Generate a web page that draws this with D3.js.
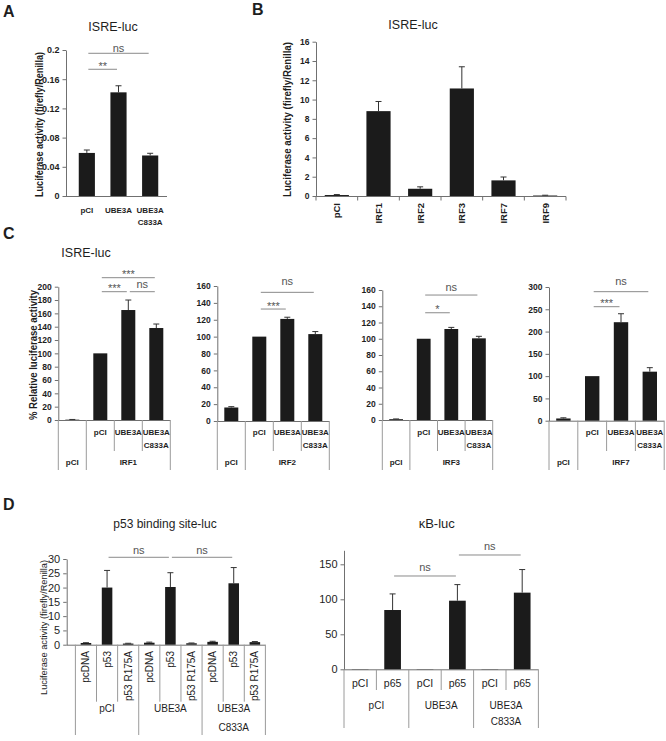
<!DOCTYPE html>
<html><head><meta charset="utf-8">
<script src="https://cdn.jsdelivr.net/npm/d3@7"></script>
<style>
body{margin:0;background:#fff;}
svg text{font-family:"Liberation Sans",Arial,Helvetica,sans-serif;}
</style></head><body>
<svg id="c" width="666" height="741"></svg>
<script>
// ---------- DATA ----------
// Panel A
const aCats = ["pCI", "UBE3A", "UBE3A\nC833A"];
const aVals = [0.059, 0.142, 0.0555];
const aErr  = [0.004, 0.009, 0.003];
const aTicks = [0, 0.04, 0.08, 0.12, 0.16, 0.2];
const aTickLabels = ["0", "0.04", "0.08", "0.12", "0.16", "0.2"];
const aSig = [{a:0, b:1, lv:0.1736, t:"**"}, {a:0, b:2, lv:0.1955, t:"ns"}];

// Panel B
const bCats = ["pCI", "IRF1", "IRF2", "IRF3", "IRF7", "IRF9"];
const bVals = [0.1, 8.8, 0.75, 11.15, 1.62, 0.05];
const bErr  = [0.05, 1.0, 0.2, 2.25, 0.35, 0.03];
const bTicks = [0, 2, 4, 6, 8, 10, 12, 14, 16];

// Panel C
const cCats = ["", "pCI", "UBE3A", "UBE3A\nC833A"];
const cIRF  = ["IRF1", "IRF2", "IRF3", "IRF7"];
const cBase = "pCI";
const cVals = [[0.5, 100, 165, 138], [16, 100, 121, 103], [1, 100, 112, 100.5], [5, 100, 221, 110]];
const cErr  = [[0.3, 0, 15, 6], [1, 0, 2, 3], [0.3, 0, 2, 2.5], [1.5, 0, 19, 9]];
const cMax  = [200, 160, 160, 300];
const cTickStep = [20, 20, 20, 50];
const cSig = [
  [{a:1, b:3, lv:213.5, t:"***"}, {a:1, b:2, lv:192.5, t:"***"}, {a:2, b:3, lv:192.5, t:"ns"}],
  [{a:1, b:2, lv:132.7, t:"***"}, {a:1, b:3, lv:152.5, t:"ns"}],
  [{a:1, b:2, lv:132, t:"*"}, {a:1, b:3, lv:153.8, t:"ns"}],
  [{a:1, b:2, lv:255.8, t:"***"}, {a:1, b:3, lv:289.5, t:"ns"}]
];

// Panel D (p53 binding site-luc)
const d1Cats = ["pcDNA", "p53", "p53 R175A", "pcDNA", "p53", "p53 R175A", "pcDNA", "p53", "p53 R175A"];
const d1Groups = ["pCI", "UBE3A", "UBE3A\nC833A"];
const d1Vals = [0.6, 20, 0.4, 0.7, 20.2, 0.5, 1.0, 21.5, 0.9];
const d1Err  = [0.1, 6, 0.1, 0.2, 5, 0.1, 0.2, 5.5, 0.2];
const d1Ticks = [0, 5, 10, 15, 20, 25, 30];
const d1Sig = [{a:1, b:4, lv:30.6, t:"ns"}, {a:4, b:7, lv:30.6, t:"ns"}];

// Panel D (kB-luc)
const d2Cats = ["pCI", "p65", "pCI", "p65", "pCI", "p65"];
const d2Groups = ["pCI", "UBE3A", "UBE3A\nC833A"];
const d2Vals = [0.3, 84.7, 0.3, 98, 0.3, 109.5];
const d2Err  = [0, 23, 0, 23, 0, 33];
const d2Ticks = [0, 50, 100, 150];
const d2Sig = [{a:1, b:3, lv:133.3, t:"ns"}, {a:3, b:5, lv:163.3, t:"ns"}];

// ---------- DRAWING ----------
const svg = d3.select("#c");
const AX = "#707070", GRID = "#9a9a9a", BAR = "#1b1b1b", TXT = "#1e1e1e", SIG = "#8a8a8a";

function addText(x, y, s, size, o = {}) {
  const t = svg.append("text").attr("x", x).attr("y", y).text(s)
    .attr("font-size", size).attr("text-anchor", o.anchor || "middle")
    .attr("font-weight", o.weight || "normal").attr("fill", o.fill || TXT);
  if (o.rotate) t.attr("transform", `rotate(${o.rotate},${x},${y})`);
  if (o.len) t.attr("textLength", o.len).attr("lengthAdjust", "spacingAndGlyphs");
  if (o.baseline) t.attr("dominant-baseline", o.baseline);
  return t;
}
function line(x1, y1, x2, y2, col, w = 1) {
  svg.append("line").attr("x1", x1).attr("y1", y1).attr("x2", x2).attr("y2", y2)
    .attr("stroke", col).attr("stroke-width", w);
}
function yAxis(y, ticks, fmt, x, fs, weight) {
  const ax = d3.axisLeft(y).tickValues(ticks).tickFormat(fmt).tickSize(3.5).tickSizeOuter(0).tickPadding(3);
  const g = svg.append("g").attr("transform", `translate(${x},0)`).call(ax)
    .attr("font-family", null).attr("font-size", null);
  g.select(".domain").attr("stroke", AX);
  g.selectAll(".tick line").attr("stroke", AX);
  g.selectAll(".tick text").attr("font-size", fs).attr("font-weight", weight).attr("fill", TXT);
}
const cx = (x, i) => x(i) + x.bandwidth() / 2;
function drawBars(x, y, vals, errs, frac) {
  const w = x.bandwidth() * frac;
  const g = svg.append("g");
  g.selectAll("rect").data(vals).join("rect")
    .attr("x", (d, i) => cx(x, i) - w / 2).attr("y", d => y(d))
    .attr("width", w).attr("height", d => y(0) - y(d)).attr("fill", BAR);
  vals.forEach((v, i) => {
    if (errs[i] > 0) {
      const c = cx(x, i);
      line(c, y(v), c, y(v + errs[i]), "#333", 1);
      line(c - 3, y(v + errs[i]), c + 3, y(v + errs[i]), "#333", 1);
    }
  });
}
function drawSig(x, y, sigs, gap, fs) {
  sigs.forEach(s => {
    const x1 = cx(x, s.a) + 1.5, x2 = cx(x, s.b) - 1.5, yy = y(s.lv);
    line(x1, yy, x2, yy, SIG, 1);
    const star = s.t.indexOf("*") >= 0;
    addText((x1 + x2) / 2, star ? yy + 0.5 : yy - gap, s.t, fs, {fill: "#555"});
  });
}

// ----- Panel letters -----
addText(3, 17, "A", 16, {anchor: "start", weight: "bold"});
addText(252, 15, "B", 16, {anchor: "start", weight: "bold"});
addText(3, 239, "C", 16, {anchor: "start", weight: "bold"});
addText(3, 510, "D", 16, {anchor: "start", weight: "bold"});

// ----- Panel A -----
{
  const x = d3.scaleBand().domain(d3.range(aCats.length)).range([71, 166]);
  const y = d3.scaleLinear().domain([0, 0.2]).range([196, 50]);
  yAxis(y, aTicks, (d, i) => aTickLabels[i], 66, 9, "bold");
  line(66, 196.5, 167, 196.5, AX);
  drawBars(x, y, aVals, aErr, 0.51);
  aCats.forEach((c, i) => c.split("\n").forEach((s, k) =>
    addText(cx(x, i), 213 + k * 12, s, 8, {weight: "bold"})));
  drawSig(x, y, aSig, 1.5, 11);
  addText(113, 31, "ISRE-luc", 12.5);
  addText(39.3, 124.5, "Luciferase activity (firefly/Renilla)", 10, {rotate: -90, len: 145, baseline: "central", weight: "bold"});
}

// ----- Panel B -----
{
  const x = d3.scaleBand().domain(d3.range(bCats.length)).range([316, 566]);
  const y = d3.scaleLinear().domain([0, 16]).range([196, 41.7]);
  yAxis(y, bTicks, d => d, 316, 8.5, "bold");
  line(316, 196.5, 566, 196.5, AX);
  d3.range(bCats.length + 1).forEach(i => {
    const xx = i < bCats.length ? x(i) : 566;
    line(xx, 196.5, xx, 200.5, AX);
  });
  drawBars(x, y, bVals, bErr, 0.58);
  bCats.forEach((c, i) => addText(cx(x, i) + 3.5, 203, c, 9.5, {rotate: -90, anchor: "end", weight: "bold"}));
  addText(413, 29, "ISRE-luc", 12.5);
  addText(287, 119.5, "Luciferase activity (firefly/Renilla)", 10.5, {rotate: -90, len: 155, baseline: "central", weight: "bold"});
}

// ----- Panel C -----
{
  const axX = [58.3, 217.3, 382.3, 549];
  const step = [28, 28, 27.6, 28.8];
  const zero = [420, 421, 420, 420.7];
  const top = [286.7, 286, 290, 287];
  const sigGap = [4, 7, 4, 7];
  cIRF.forEach((irf, k) => {
    const ax = axX[k], right = ax + 4 * step[k];
    const x = d3.scaleBand().domain(d3.range(cCats.length)).range([ax, right]);
    const y = d3.scaleLinear().domain([0, cMax[k]]).range([zero[k], top[k]]);
    yAxis(y, d3.range(0, cMax[k] + 1, cTickStep[k]), d => d, ax, 8.5, "bold");
    line(ax, zero[k] + 0.5, right, zero[k] + 0.5, AX);
    drawBars(x, y, cVals[k], cErr[k], 0.5);
    // table
    line(ax, zero[k], ax, 470, GRID);
    line(x(1), zero[k], x(1), 470, GRID);
    line(right, zero[k], right, 470, GRID);
    line(x(2), zero[k], x(2), 451, GRID);
    line(x(3), zero[k], x(3), 451, GRID);
    cCats.forEach((c, i) => c.split("\n").forEach((s, j) =>
      addText(cx(x, i), 435 + j * 12.5, s, 8, {weight: "bold"})));
    addText(cx(x, 0), 464.5, cBase, 8, {weight: "bold"});
    addText((x(1) + right) / 2, 464.5, irf, 8, {weight: "bold"});
    drawSig(x, y, cSig[k], sigGap[k], 11);
  });
  addText(86, 257, "ISRE-luc", 12.5);
  addText(33.3, 355, "% Relative luciferase activity", 10.5, {rotate: -90, len: 130, baseline: "central", weight: "bold"});
}

// ----- Panel D1 -----
{
  const right = 265.4;
  const x = d3.scaleBand().domain(d3.range(d1Cats.length)).range([75.4, right]);
  const y = d3.scaleLinear().domain([0, 30]).range([644.7, 559]);
  yAxis(y, d1Ticks, d => d, 66.7, 11, "normal");
  line(66.7, 645.2, right, 645.2, AX);
  drawBars(x, y, d1Vals, d1Err, 0.5);
  d1Cats.forEach((c, i) => addText(cx(x, i) + 3.5, 651, c, 10, {rotate: -90, anchor: "end"}));
  d3.range(d1Cats.length).forEach(i => {
    if (i % 3 !== 0) line(x(i), 644.7, x(i), 701.7, GRID);
    else line(x(i), 644.7, x(i), 735, GRID);
  });
  line(right, 644.7, right, 735, GRID);
  d1Groups.forEach((g, gi) => {
    const c = (x(gi * 3) + (gi < 2 ? x(gi * 3 + 3) : right)) / 2;
    g.split("\n").forEach((s, j) => addText(c, 712 + j * 18.5, s, 10));
  });
  drawSig(x, y, d1Sig, 3, 11);
  addText(165, 527.5, "p53 binding site-luc", 12);
  addText(43.3, 627.5, "Luciferase activity (firefly/Renilla)", 9.5, {rotate: -90, len: 135, baseline: "central"});
}

// ----- Panel D2 -----
{
  const right = 538.4;
  const x = d3.scaleBand().domain(d3.range(d2Cats.length)).range([344, right]);
  const y = d3.scaleLinear().domain([0, 170]).range([669.3, 550.3]);
  yAxis(y, d2Ticks, d => d, 344, 11, "normal");
  line(344, 669.8, right, 669.8, AX);
  drawBars(x, y, d2Vals, d2Err, 0.515);
  d2Cats.forEach((c, i) => addText(cx(x, i), 687, c, 10.5));
  d3.range(d2Cats.length).forEach(i => {
    if (i % 2 === 1) line(x(i), 669.3, x(i), 690, GRID);
    else line(x(i), 669.3, x(i), 728, GRID);
  });
  line(right, 669.3, right, 728, GRID);
  d2Groups.forEach((g, gi) => {
    const c = (x(gi * 2) + (gi < 2 ? x(gi * 2 + 2) : right)) / 2;
    g.split("\n").forEach((s, j) => addText(c, 708.5 + j * 16.5, s, 10));
  });
  drawSig(x, y, d2Sig, 5, 11);
  addText(436.7, 528, "\u03baB-luc", 13);
}
</script></body></html>
